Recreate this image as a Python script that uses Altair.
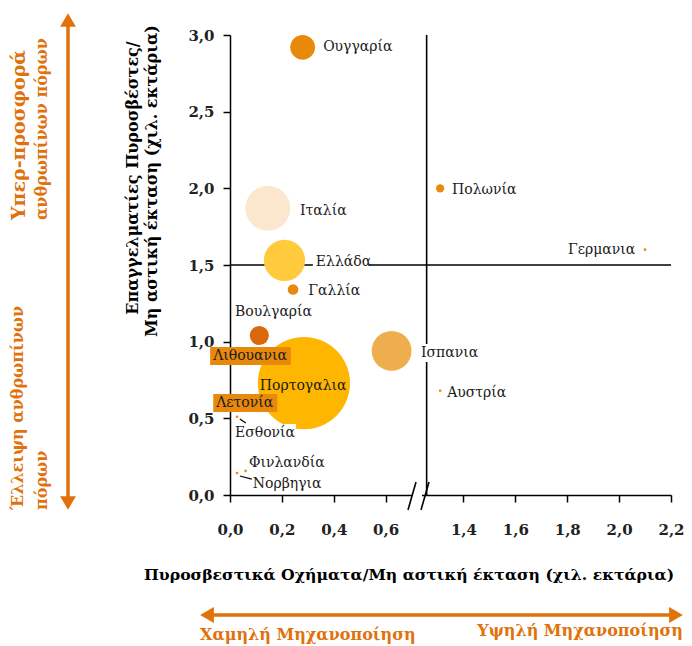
import altair as alt
import pandas as pd

# ---------------- data ----------------
countries = ["Ουγγαρία", "Ιταλία", "Ελλάδα", "Γαλλία", "Βουλγαρία", "Λιθουανια",
             "Πορτογαλια", "Λετονία", "Εσθονία", "Φινλανδία", "Νορβηγια", "Ισπανια",
             "Πολωνία", "Γερμανια", "Αυστρία"]
# fire vehicles per non-urban area (thousand ha)
vehicles = [0.28, 0.146, 0.21, 0.243, 0.113, 0.03, 0.285, 0.03, 0.027, 0.06, 0.027,
            0.623, 1.31, 2.10, 1.31]
# professional firefighters per non-urban area (thousand ha)
firefighters = [2.92, 1.87, 1.53, 1.34, 1.04, 0.93, 0.73, 0.60, 0.51, 0.157, 0.143,
                0.94, 2.00, 1.60, 0.68]
# relative bubble weight
bubble = [7.2, 23.7, 20.0, 1.33, 4.3, 0.08, 100, 0.08, 0.08, 0.08, 0.08, 18.7, 0.8,
          0.08, 0.08]
# label anchor positions (data units)
label_x = [0.359, 0.27, 0.331, 0.302, 0.019, -0.065, 0.115, -0.053, 0.019, 0.073,
           0.088, 0.736, 1.356, 2.062, 1.337]
label_y = [2.92, 1.852, 1.52, 1.33, 1.195, 0.907, 0.711, 0.60, 0.404, 0.209, 0.072,
           0.926, 1.99, 1.60, 0.665]
right_aligned = ["Γερμανια"]

x_ticks = [0.0, 0.2, 0.4, 0.6, 1.4, 1.6, 1.8, 2.0, 2.2]
y_ticks = [0.0, 0.5, 1.0, 1.5, 2.0, 2.5, 3.0]
h_divider = [1.5]
v_divider = [0.758]          # in compressed axis units
gap_shift = 0.5              # x values > 1 are drawn shifted left by this amount

leader_country = ["Εσθονία", "Νορβηγια"]
leader_x1 = [0.038, 0.038]
leader_y1 = [0.496, 0.124]
leader_x2 = [0.061, 0.084]
leader_y2 = [0.470, 0.104]

# ---------------- styles ----------------
palette = {
    "Ουγγαρία": "#E8890C", "Ιταλία": "#FBE6CE", "Ελλάδα": "#FFCB3D",
    "Γαλλία": "#E8890C", "Βουλγαρία": "#DB690B", "Λιθουανια": "#E8890C",
    "Πορτογαλια": "#FFB600", "Λετονία": "#E8890C", "Εσθονία": "#E8890C",
    "Φινλανδία": "#E8890C", "Νορβηγια": "#E8890C", "Ισπανια": "#EFAE4E",
    "Πολωνία": "#E8890C", "Γερμανια": "#E8890C", "Αυστρία": "#E8890C",
}
label_boxes = {"Ελλάδα": "white", "Ισπανια": "white", "Εσθονία": "white",
               "Λιθουανια": "#E8890C", "Λετονία": "#E8890C"}
ORANGE = "#E0720C"
SERIF = "DejaVu Serif"
W, H = 441, 460
X_DOM, Y_DOM = [0, 1.7], [0, 3]
PXX = W / (X_DOM[1] - X_DOM[0])
PXY = H / (Y_DOM[1] - Y_DOM[0])

df = pd.DataFrame({"country": countries, "x": vehicles, "y": firefighters,
                   "w": bubble, "lx": label_x, "ly": label_y})
df["box"] = [label_boxes.get(c, "") for c in countries]
df["right"] = [c in right_aligned for c in countries]

tick_vals = [round(t - gap_shift, 3) if t > 1 else t for t in x_ticks]
x_label_expr = ("replace(format(datum.value < 0.75 ? datum.value : datum.value + %s, '.1f'), '.', ',')"
                % gap_shift)

x_axis = alt.Axis(values=tick_vals, labelExpr=x_label_expr, title=None, grid=False,
                  domainColor="black", domainWidth=1.5, tickColor="black", tickWidth=1.5,
                  tickSize=7, labelFont=SERIF, labelFontWeight="bold", labelFontSize=15,
                  labelColor="#222", labelPadding=20, labelFlush=False)
y_axis = alt.Axis(values=y_ticks, labelExpr="replace(format(datum.value, '.1f'), '.', ',')",
                  title=None, grid=False, domainColor="black", domainWidth=1.5,
                  tickColor="black", tickWidth=1.5, tickSize=7, labelFont=SERIF,
                  labelFontWeight="bold", labelFontSize=15, labelColor="#222",
                  labelPadding=9, labelFlush=False)
xs = alt.Scale(domain=X_DOM, nice=False, zero=False)
ys = alt.Scale(domain=Y_DOM, nice=False, zero=False)


def X(field, **kw):
    return alt.X(field, type="quantitative", scale=xs, axis=x_axis, **kw)


def Y(field, **kw):
    return alt.Y(field, type="quantitative", scale=ys, axis=y_axis, **kw)


shift = "datum.%s > 1 ? datum.%s - " + str(gap_shift) + " : datum.%s"
base = alt.Chart(df).transform_calculate(
    xa=shift % ("x", "x", "x"),
    lxa=shift % ("lx", "lx", "lx"),
)

hline = alt.Chart(pd.DataFrame({"y": h_divider})).mark_rule(
    color="black", strokeWidth=1.6).encode(y=Y("y"))
vline = alt.Chart(pd.DataFrame({"x": v_divider})).mark_rule(
    color="black", strokeWidth=1.6).encode(x=X("x"))

bubbles = base.mark_circle(opacity=1).encode(
    x=X("xa"), y=Y("y"),
    color=alt.Color("country:N", scale=alt.Scale(domain=list(palette.keys()),
                                                 range=list(palette.values())),
                    legend=None),
    size=alt.Size("w:Q", scale=alt.Scale(domain=[0, 100], range=[0, 8495]), legend=None),
    order=alt.Order("w:Q", sort="descending"),
)

boxes = base.transform_filter("datum.box != ''").transform_calculate(
    bx1="datum.lxa - 3 / %f" % PXX,
    bx2="datum.lxa + (length(datum.country) * 8.3 + 3) / %f" % PXX,
    by1="datum.ly - 9 / %f" % PXY,
    by2="datum.ly + 9 / %f" % PXY,
).mark_rect().encode(
    x=X("bx1"), x2="bx2:Q", y=Y("by1"), y2="by2:Q",
    color=alt.Color("box:N", scale=None),
)

labels_left = base.transform_filter("!datum.right").mark_text(
    align="left", baseline="middle", font=SERIF, fontSize=14, color="#1a1a1a").encode(
    x=X("lxa"), y=Y("ly"), text="country:N")
labels_right = base.transform_filter("datum.right").mark_text(
    align="right", baseline="middle", font=SERIF, fontSize=14, color="#1a1a1a").encode(
    x=X("lxa"), y=Y("ly"), text="country:N")

leaders = alt.Chart(pd.DataFrame({"c": leader_country, "x1": leader_x1, "y1": leader_y1,
                                  "x2": leader_x2, "y2": leader_y2})).mark_rule(
    color="black", strokeWidth=1.2).encode(x=X("x1"), x2="x2:Q", y=Y("y1"), y2="y2:Q")

one = pd.DataFrame({"k": [0]})

# axis break marks
break_gap = alt.Chart(one).mark_rule(color="white", strokeWidth=4).encode(
    x=alt.value(182), x2=alt.value(192), y=alt.value(H), y2=alt.value(H))
slash1 = alt.Chart(one).mark_rule(color="black", strokeWidth=1.6).encode(
    x=alt.value(178), x2=alt.value(186), y=alt.value(H + 15), y2=alt.value(H - 13))
slash2 = alt.Chart(one).mark_rule(color="black", strokeWidth=1.6).encode(
    x=alt.value(191), x2=alt.value(199), y=alt.value(H + 15), y2=alt.value(H - 13))


def ann(text, x, y, **kw):
    return alt.Chart(pd.DataFrame({"t": [text]})).mark_text(**kw).encode(
        text="t:N", x=alt.value(x), y=alt.value(y))


title_kw = dict(font=SERIF, fontWeight="bold", color="black", baseline="middle")
orange_kw = dict(font=SERIF, fontWeight="bold", color=ORANGE, baseline="middle")

annotations = [
    ann("Επαγγελματίες Πυροσβέστες/", -97, 143, angle=270, align="center",
        fontSize=16, **title_kw),
    ann("Μη αστική έκταση (χιλ. εκτάρια)", -78, 146, angle=270, align="center",
        fontSize=16, **title_kw),
    ann("Πυροσβεστικά Οχήματα/Μη αστική έκταση (χιλ. εκτάρια)", -86, 540,
        align="left", fontSize=15.7, **title_kw),
    ann("Υπερ-προσφορά", -211, 185, angle=270, align="left", fontSize=19, **orange_kw),
    ann("ανθρωπίνων πόρων", -188, 185, angle=270, align="left", fontSize=16, **orange_kw),
    ann("Έλλειψη ανθρωπίνων", -212, 475, angle=270, align="left", fontSize=16, **orange_kw),
    ann("πόρων", -188, 475, angle=270, align="left", fontSize=16, **orange_kw),
    ann("Χαμηλή Μηχανοποίηση", -30, 600, align="left", fontSize=16, **orange_kw),
    ann("Υψηλή Μηχανοποίηση", 453, 596, align="right", fontSize=16, **orange_kw),
]

v_arrow = alt.Chart(one).mark_rule(color=ORANGE, strokeWidth=3.5).encode(
    x=alt.value(-162), y=alt.value(-18), y2=alt.value(470))
h_arrow = alt.Chart(one).mark_rule(color=ORANGE, strokeWidth=3.5).encode(
    x=alt.value(-25), x2=alt.value(448), y=alt.value(580))
heads = [
    alt.Chart(one).mark_point(shape="triangle-up", filled=True, size=250, color=ORANGE,
                              opacity=1).encode(x=alt.value(-162), y=alt.value(-15)),
    alt.Chart(one).mark_point(shape="triangle-down", filled=True, size=250, color=ORANGE,
                              opacity=1).encode(x=alt.value(-162), y=alt.value(468)),
    alt.Chart(one).mark_point(shape="triangle-left", filled=True, size=250, color=ORANGE,
                              opacity=1).encode(x=alt.value(-23), y=alt.value(580)),
    alt.Chart(one).mark_point(shape="triangle-right", filled=True, size=250, color=ORANGE,
                              opacity=1).encode(x=alt.value(446), y=alt.value(580)),
]

chart = alt.layer(
    hline, vline, bubbles, leaders, boxes, labels_left, labels_right,
    break_gap, slash1, slash2, v_arrow, h_arrow, *heads, *annotations,
).properties(
    width=W, height=H,
    padding={"left": 222, "top": 27, "right": 13, "bottom": 160},
    autosize=alt.AutoSizeParams(type="none"),
    background="white",
).configure_view(stroke=None)

chart.save("out.html", embed_options={"renderer": "svg", "actions": False})
